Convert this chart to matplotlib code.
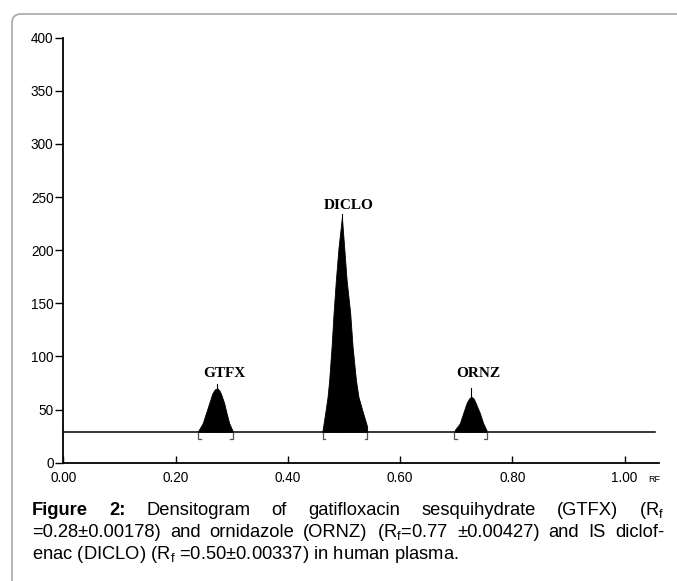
import matplotlib
matplotlib.use("Agg")
import matplotlib.pyplot as plt
from matplotlib.path import Path
from matplotlib.patches import PathPatch

plt.rcParams['font.family'] = ['Liberation Sans', 'DejaVu Sans']
plt.rcParams['mathtext.default'] = 'regular'

# --- data ---
baseline = 29

gtfx_rf = [0.2405, 0.2405, 0.2483, 0.2541, 0.2600, 0.2654, 0.2700, 0.2747, 0.2780, 0.2809, 0.2867, 0.2910, 0.2957, 0.3017, 0.3017]
gtfx_au = [29, 30, 37, 46.5, 56, 65, 69, 70, 68, 65, 56, 46.5, 37, 30, 29]

diclo_rf = [0.4620, 0.4620, 0.4630, 0.4666, 0.4709, 0.4738, 0.4780, 0.4816, 0.4857, 0.4905, 0.4964,
            0.5005, 0.5048, 0.5112, 0.5155, 0.5214, 0.5259, 0.5343, 0.5414, 0.5414]
diclo_au = [29, 31, 34, 46.5, 62, 78, 109, 141, 172, 203, 231,
            203, 172, 141, 109, 78, 62, 46.5, 34, 29]

ornz_rf = [0.6976, 0.6976, 0.7065, 0.7125, 0.7185, 0.7230, 0.7273, 0.7310, 0.7350, 0.7424, 0.7483, 0.7540, 0.7540]
ornz_au = [29, 30.8, 37, 46.5, 56, 60.5, 62, 60.5, 56, 46.5, 37, 30.8, 29]

peak_names = ['GTFX', 'DICLO', 'ORNZ']
peak_apex = [0.2747, 0.4964, 0.7273]
spike_top = [74.5, 234, 70]
peak_start = [0.240, 0.462, 0.696]
peak_end = [0.302, 0.542, 0.755]

xticks = [0.0, 0.2, 0.4, 0.6, 0.8, 1.0]
xtick_labels = ['0.00', '0.20', '0.40', '0.60', '0.80', '1.00']
yticks = [0, 50, 100, 150, 200, 250, 300, 350, 400]

# annotation heights for the peak names
label_y = [84, 242, 84]

W, H = 677, 581
fig = plt.figure(figsize=(W / 100, H / 100), dpi=100)

# frame: top and left edges with a rounded corner (in pixels -> inches)
r = 9
fx, fy = 12, 14
verts = [((W + 20), fy), (fx + r, fy), (fx, fy), (fx, fy + r), (fx, H + 20)]
codes = [Path.MOVETO, Path.LINETO, Path.CURVE3, Path.CURVE3, Path.LINETO]
verts = [(vx / 100, (H - vy) / 100) for vx, vy in verts]
fig.patches.append(PathPatch(Path(verts, codes), transform=fig.dpi_scale_trans,
                             fill=False, edgecolor='#a8a8a8', linewidth=1.2, clip_on=False))

ax = fig.add_axes([63.3 / W, 1 - 462.7 / H, (659.3 - 63.3) / W, (462.7 - 37.7) / H])
ax.set_xlim(0, 1.062)
ax.set_ylim(0, 400)

for s in ['top', 'right']:
    ax.spines[s].set_visible(False)
for s in ['left', 'bottom']:
    ax.spines[s].set_linewidth(1.3)

ax.set_xticks(xticks)
ax.set_xticklabels(xtick_labels)
ax.set_yticks(yticks)
ax.tick_params(axis='x', direction='in', length=5, width=1, pad=6, labelsize=9.8)
ax.tick_params(axis='y', direction='out', length=6, width=1, pad=1, labelsize=9.8)

# baseline of the scan
ax.plot([0, 1.054], [baseline, baseline], color='black', lw=1.1)

for rf, au in [(gtfx_rf, gtfx_au), (diclo_rf, diclo_au), (ornz_rf, ornz_au)]:
    ax.fill_between(rf, baseline, au, color='black', lw=0.6)

for i, name in enumerate(peak_names):
    ax.plot([peak_apex[i], peak_apex[i]], [baseline, spike_top[i]], color='black', lw=0.8)
    # integration brackets
    ax.plot([peak_start[i] + 0.005, peak_start[i], peak_start[i]],
            [baseline - 7, baseline - 7, baseline - 1], color='#555555', lw=0.9)
    ax.plot([peak_end[i] - 0.005, peak_end[i], peak_end[i]],
            [baseline - 7, baseline - 7, baseline - 1], color='#555555', lw=0.9)
    ax.text(peak_apex[i] + 0.012, label_y[i], name, ha='center', va='center',
            fontsize=11, fontweight='bold', family=['Liberation Serif', 'DejaVu Serif'])

fig.text(654.5 / W, 1 - 481.5 / H, 'RF', fontsize=6.5, ha='center', va='baseline')

# --- justified caption ---
renderer = fig.canvas.get_renderer()
x0, x1 = 32, 664
cap_size = 13.2
lines = [
    [('Figure', 'bold'), ('2:', 'bold'), ('Densitogram', 'normal'), ('of', 'normal'),
     ('gatifloxacin', 'normal'), ('sesquihydrate', 'normal'), ('(GTFX)', 'normal'),
     (r'(R$_\mathregular{f}$', 'normal')],
    [('=0.28±0.00178)', 'normal'), ('and', 'normal'), ('ornidazole', 'normal'),
     ('(ORNZ)', 'normal'), (r'(R$_\mathregular{f}$=0.77', 'normal'), ('±0.00427)', 'normal'),
     ('and', 'normal'), ('IS', 'normal'), ('diclof-', 'normal')],
]
baselines = [515, 537]
for words, yb in zip(lines, baselines):
    texts = [fig.text(0, 1 - yb / H, w, fontsize=cap_size, fontweight=fw, va='baseline', ha='left')
             for w, fw in words]
    widths = [t.get_window_extent(renderer).width for t in texts]
    gap = (x1 - x0 - sum(widths)) / (len(texts) - 1)
    x = x0
    for t, w in zip(texts, widths):
        t.set_x(x / W)
        x += w + gap

fig.text(x0 / W, 1 - 559 / H, r'enac (DICLO) (R$_\mathregular{f}$ =0.50±0.00337) in human plasma.',
         fontsize=cap_size, va='baseline', ha='left')

fig.savefig('out.png', dpi=100)
